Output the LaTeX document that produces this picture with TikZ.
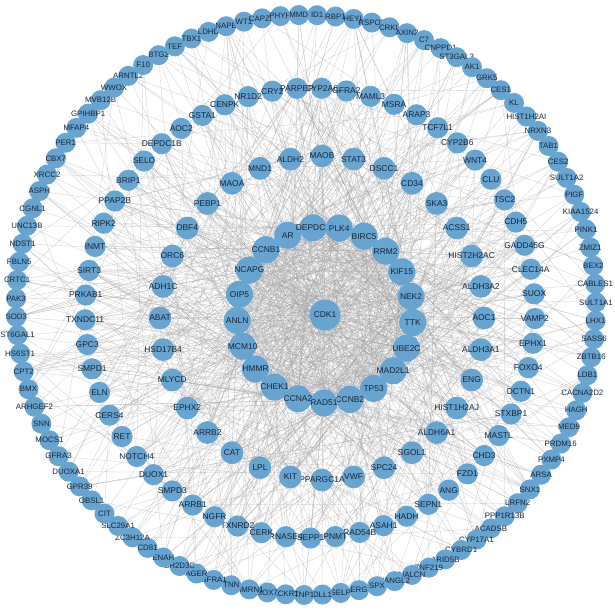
\documentclass[tikz,border=0pt]{standalone}
\usepackage{fontspec}
\setmainfont{Liberation Sans}
\usepackage{xcolor}
\usepackage{tikz}
\usetikzlibrary{backgrounds}
\definecolor{NetNode}{HTML}{67A5D0}
\definecolor{NetLink}{HTML}{A0A0A0}
\definecolor{NetText}{HTML}{16243A}

\begin{document}
\begin{tikzpicture}[x=0.025cm,y=0.025cm,
  gene/.style={circle,fill=NetNode,inner sep=0pt,minimum size=#1},
  gene/.default=0.5cm,
  glabel/.style={font=\fontsize{6}{7}\selectfont,text=NetText,inner sep=0pt},
  olabel/.style={font=\fontsize{5.6}{6.5}\selectfont,text=NetText,inner sep=0pt},
  link/.style={draw=NetLink,line width=0.2pt,opacity=0.55}]
\path[use as bounding box] (0,0) rectangle (615,610);
\pgfmathsetseed{17}
% hub
\node[gene=0.78cm,label={[glabel]center:CDK1}] (cdk) at (325,295) {};
% first ring
\begin{scope}[shift={(325,295)}]
\foreach \g [count=\i] in {AR,DEPDC1,PLK4,BIRC5,RRM2,KIF15,NEK2,TTK,UBE2C,MAD2L1,TP53,CCNB2,RAD51,CCNA2,CHEK1,HMMR,MCM10,ANLN,OIP5,NCAPG,CCNB1}{
  \pgfmathsetmacro\ang{115-(\i-1)*(360/21)}
  \node[gene=0.68cm,label={[glabel]center:\g}] (a\i) at (\ang:88) {};
}
\end{scope}
% second ring
\begin{scope}[shift={(322,292)}]
\foreach \g [count=\i] in {ALDH2,MAOB,STAT3,DSCC1,CD34,SKA3,ACSS1,HIST2H2AC,ALDH3A2,AOC1,ALDH3A1,ENG,HIST1H2AJ,ALDH6A1,SGOL1,SPC24,VWF,PPARGC1A,KIT,LPL,CAT,ARRB2,EPHX2,MLYCD,HSD17B4,ABAT,ADH1C,ORC6,DBF4,PEBP1,MAOA,MND1}{
  \pgfmathsetmacro\ang{101.25-(\i-1)*(360/32)}
  \node[gene=0.57cm,label={[glabel]center:\g}] (b\i) at (\ang:162) {};
}
\end{scope}
% third ring
\begin{scope}[shift={(310,297)}]
\foreach \g [count=\i] in {CYP2A6,GFRA2,MAML3,MSRA,ARAP3,TCF7L1,CYP2B6,WNT4,CLU,TSC2,CDH5,GADD45G,CLEC14A,SUOX,VAMP2,EPHX1,FOXO4,DCTN1,STXBP1,MASTL,CHD3,FZD1,ANG,SEPN1,HADH,ASAH1,RAD54B,PNMT,SEPP1,RNASE4,CERK,TXNRD2,NGFR,ARRB1,SMPD3,DUOX1,NOTCH4,RET,CERS4,ELN,SMPD1,GPC3,TXNDC11,PRKAB1,SIRT3,INMT,RIPK2,PPAP2B,BRIP1,SELO,DEPDC1B,AOC2,GSTA1,CENPK,NR1D2,CRY2,PARPBP}{
  \pgfmathsetmacro\ang{87-(\i-1)*(360/57)}
  \node[gene=0.53cm,label={[glabel]center:\g}] (c\i) at (\ang:225) {};
}
\end{scope}
% outer ring
\begin{scope}[shift={(306,305)}]
\foreach \g [count=\i] in {ID1,RBP1,HEYL,RSPO3,CRKL,AXIN2,C7,CNPPD1,ST3GAL3,AK1,GRK5,CES1,KL,HIST1H2AI,NRXN3,TAB1,CES2,SULT1A2,PIGF,KIAA1524,PINK1,ZMIZ1,BEX2,CABLES1,SULT1A1,LHX1,SASS6,ZBTB16,LDB1,CACNA2D2,HAGH,MED9,PRDM16,PXMP4,ARSA,SNX1,LRFN2,PPP1R13B,ACADSB,CYP17A1,CYBRD1,ARID5B,ZNF219,NALCN,VANGL2,SPX,ERG,SELP,DLL1,TNP1,ACKR1,SOX7,MMRN1,TNN,GFRA1,AGER,SH2D3C,ENAH,CD81,ZC3H12A,SLC29A1,CIT,OBSL1,GPR39,DUOXA1,GFRA3,MOCS1,SNN,ARHGEF2,BMX,CPT2,HS6ST1,ST6GAL1,SOD3,PAK3,CRTC1,FBLN5,NDST1,UNC13B,CGNL1,ASPH,XRCC2,CBX7,PER1,MFAP4,GPIHBP1,MVB12B,WWOX,ARNTL2,F10,BTG2,TEF,TBX1,LDHD,NAPB,WT1,CAPZB,PHYH,MMD}{
  \pgfmathsetmacro\ang{87.8-(\i-1)*(360/99)}
  \node[gene=0.5cm,label={[olabel]center:\g}] (d\i) at (\ang:290) {};
}
\end{scope}
% interactions
\begin{pgfonlayer}{background}
\foreach \i in {1,...,21} \draw[link] (cdk) -- (a\i);
\foreach \i in {1,...,32} \draw[link] (cdk) -- (b\i);
\foreach \i in {1,...,57} \draw[link] (cdk) -- (c\i);
\foreach \i in {1,...,20}{
  \pgfmathtruncatemacro\nxt{\i+1}
  \foreach \j in {\nxt,...,21} \draw[link] (a\i) -- (a\j);
}
\foreach \i in {1,...,21}{
  \foreach \k in {1,...,9}{
    \pgfmathrandominteger{\pb}{1}{32}
    \pgfmathrandominteger{\pc}{1}{57}
    \pgfmathrandominteger{\pd}{1}{99}
    \draw[link] (a\i) -- (b\pb) (a\i) -- (c\pc) (a\i) -- (d\pd);
  }
}
\foreach \i in {1,...,32}{
  \foreach \k in {1,...,4}{
    \pgfmathrandominteger{\pc}{1}{57}
    \pgfmathrandominteger{\pd}{1}{99}
    \draw[link] (b\i) -- (c\pc) (b\i) -- (d\pd);
  }
}
\foreach \i in {1,...,57}{
  \foreach \k in {1,2}{
    \pgfmathrandominteger{\pd}{1}{99}
    \draw[link] (c\i) -- (d\pd);
  }
}
\end{pgfonlayer}
\end{tikzpicture}
\end{document}
